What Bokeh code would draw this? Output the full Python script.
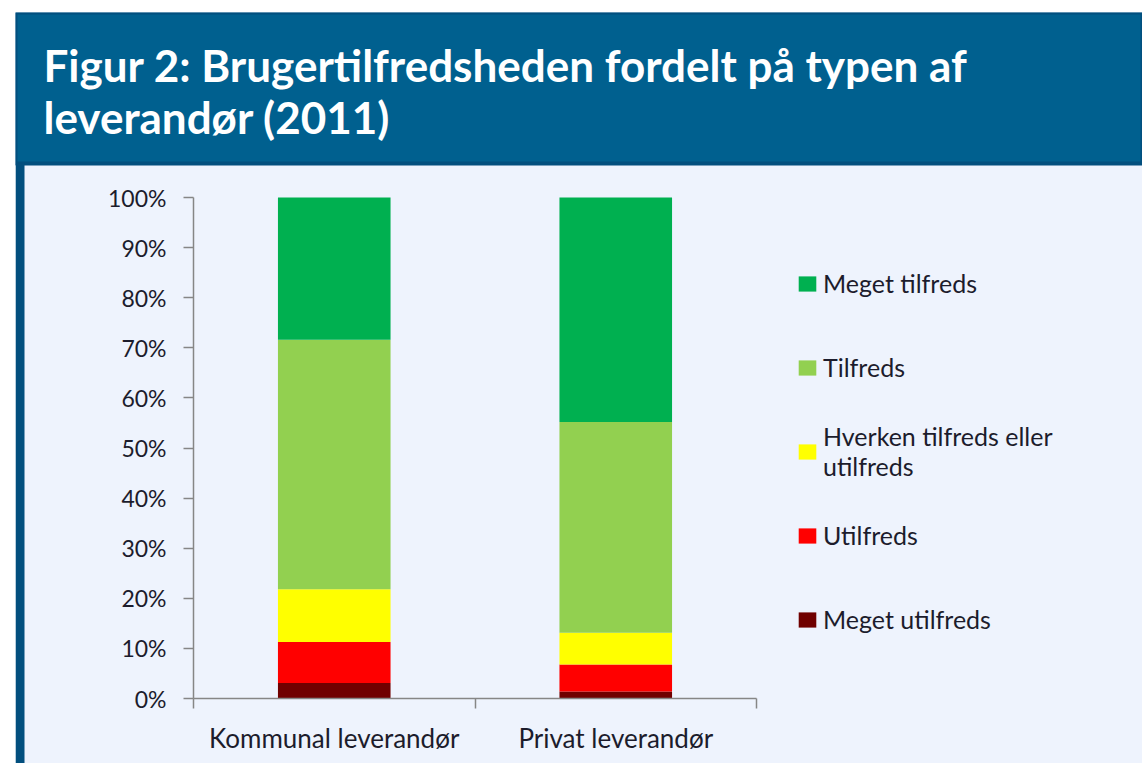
from bokeh.plotting import figure
from bokeh.models import (ColumnDataSource, Range1d, FixedTicker, PrintfTickFormatter,
                          Legend, LegendItem, BoxAnnotation, Label)
from bokeh.embed import file_html
from bokeh.resources import INLINE

# ---------------- data ----------------
title_lines = ["Figur 2: Brugertilfredsheden fordelt på typen af", "leverandør (2011)"]
categories = ["Kommunal leverandør", "Privat leverandør"]
series = ["Meget utilfreds", "Utilfreds", "Hverken tilfreds eller\nutilfreds", "Tilfreds", "Meget tilfreds"]
meget_utilfreds = [3.1, 1.4]
utilfreds = [8.2, 5.4]
hverken = [10.5, 6.3]
tilfreds = [49.8, 42.1]
meget_tilfreds = [28.4, 44.8]
colors = ["#700000", "#FF0000", "#FFFF00", "#92D050", "#00B050"]
y_ticks = list(range(0, 101, 10))

HEADER = "#00608F"
HEADER_EDGE = "#024F7E"
PANEL = "#EEF3FD"
AXIS = "#868686"
TXT = "#1C1C2C"
FONT = "Lato"

# ---------------- layout (page pixels) ----------------
W, H = 1142, 763
BOX_L, BOX_T = 15, 12          # outer box (frame) top-left
AX_L, AX_R = 193, 756          # plot area x extent
AX_T, AX_B = 197, 698          # plot area y extent (100% .. 0%)
HEAD_B = 163                   # bottom of header band
STRIP_R = 24                   # right edge of left border strip

n = len(categories)
cw = (AX_R - AX_L) / n
yu = (AX_B - AX_T) / 100.0
x_start = -(AX_L - BOX_L) / cw
x_end = n + (W - AX_R) / cw
y_start = -(H - AX_B) / yu
y_end = 100 + (AX_T - BOX_T) / yu


def fx(px):
    return x_start + (px - BOX_L) / cw


def fy(py):
    return y_end - (py - BOX_T) / yu


xpos = [i + 0.5 for i in range(n)]
keys = ["mu", "u", "h", "t", "mt"]
data = dict(x=xpos)
for k, vals in zip(keys, [meget_utilfreds, utilfreds, hverken, tilfreds, meget_tilfreds]):
    data[k] = vals
src = ColumnDataSource(data)

p = figure(width=W, height=H, x_range=Range1d(x_start, x_end), y_range=Range1d(y_start, y_end),
           toolbar_location=None, output_backend="svg",
           min_border_left=BOX_L, min_border_right=0, min_border_top=BOX_T, min_border_bottom=0,
           background_fill_color=PANEL, border_fill_color="white", outline_line_color=None)
p.grid.visible = False

# header band and left strip
p.add_layout(BoxAnnotation(left=x_start, right=x_end, top=y_end, bottom=fy(HEAD_B),
                           fill_color=HEADER, fill_alpha=1, line_color=HEADER_EDGE,
                           line_width=4, line_alpha=1))
p.add_layout(BoxAnnotation(left=x_start, right=fx(STRIP_R), top=fy(HEAD_B), bottom=y_start,
                           fill_color=HEADER_EDGE, fill_alpha=1, line_color=None))
for i, t in enumerate(title_lines):
    p.add_layout(Label(x=fx(43), y=fy(64 + 52 * i), text=t,
                       text_font=FONT, text_font_style="bold", text_font_size="44px",
                       text_color="white", text_baseline="alphabetic", text_align="left"))

rs = p.vbar_stack(keys, x="x", width=0.4, color=colors, line_color=None, source=src)

p.yaxis.fixed_location = 0
p.yaxis.bounds = (0, 100)
p.yaxis.ticker = FixedTicker(ticks=y_ticks)
p.yaxis.formatter = PrintfTickFormatter(format="%d%%")
p.yaxis.major_tick_out = 10
p.yaxis.major_tick_in = 0
p.yaxis.minor_tick_out = 0
p.yaxis.minor_tick_in = 0
p.yaxis.major_label_standoff = 17
p.yaxis.major_label_text_font_size = "23px"

p.xaxis.fixed_location = 0
p.xaxis.bounds = (0, n)
p.xaxis.ticker = FixedTicker(ticks=xpos, minor_ticks=list(range(n + 1)))
p.xaxis.major_label_overrides = {x: c for x, c in zip(xpos, categories)}
p.xaxis.major_tick_out = 0
p.xaxis.major_tick_in = 0
p.xaxis.minor_tick_out = 10
p.xaxis.minor_tick_in = 0
p.xaxis.major_label_standoff = 13
p.xaxis.major_label_text_font_size = "26px"

for ax in (p.xaxis, p.yaxis):
    ax.axis_line_color = AXIS
    ax.axis_line_width = 1.5
    ax.major_tick_line_color = AXIS
    ax.major_tick_line_width = 1.5
    ax.minor_tick_line_color = AXIS
    ax.minor_tick_line_width = 1.5
    ax.major_label_text_font = FONT
    ax.major_label_text_color = TXT

items = [LegendItem(label=s, renderers=[r]) for s, r in zip(series, rs)][::-1]
legend = Legend(items=items, location=(798 - BOX_L - 2, H - 649), orientation="vertical",
                label_text_font=FONT, label_text_font_size="25px", label_text_color=TXT,
                label_text_line_height=1.2,
                glyph_width=22, glyph_height=19, label_standoff=5, spacing=24,
                label_height=60, padding=0, margin=0,
                border_line_color=None, background_fill_alpha=0)
p.add_layout(legend, "center")

open("out.html", "w").write(file_html(p, INLINE))
